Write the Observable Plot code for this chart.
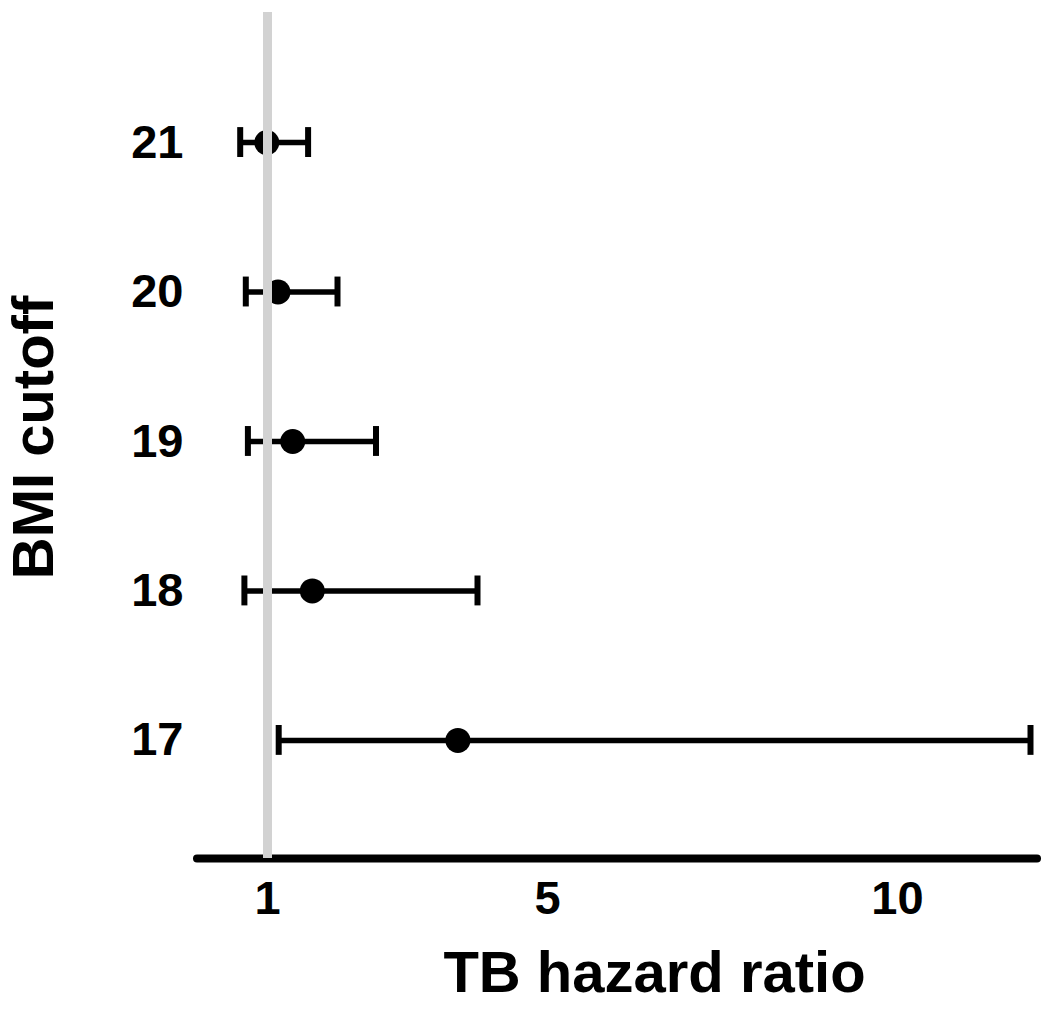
<!DOCTYPE html>
<html>
<head>
<meta charset="utf-8">
<script src="https://cdn.jsdelivr.net/npm/d3@7"></script>
<script src="https://cdn.jsdelivr.net/npm/@observablehq/plot@0.6"></script>
<style>
  html, body { margin: 0; padding: 0; background: #fff; }
  #chart svg { display: block; }
</style>
</head>
<body>
<div id="chart"></div>
<script>
// BMI cutoff rows
const bmi = [21, 20, 19, 18, 17];
// TB hazard ratio point estimates and 95% CI
const hr = [0.99, 1.15, 1.36, 1.64, 3.72];
const lower = [0.61, 0.69, 0.72, 0.67, 1.16];
const upper = [1.58, 2.0, 2.55, 4.0, 11.9];
const xTicks = [1, 5, 10];
const yTicks = [17, 18, 19, 20, 21];
const xTitle = "TB hazard ratio";
const yTitle = "BMI cutoff";

const rows = bmi.map((b, i) => ({bmi: b, hr: hr[i], lo: lower[i], hi: upper[i]}));
const capHalf = 0.1;
const yMin = 16.21, yMax = 21.87;
const font = "'Liberation Sans', Arial, Helvetica, sans-serif";

const chart = Plot.plot({
  width: 1050,
  height: 1013,
  marginLeft: 197,
  marginRight: 13,
  marginTop: 12,
  marginBottom: 155,
  style: {fontFamily: font, fontWeight: "bold", color: "black", background: "white"},
  x: {domain: [0, 12]},
  y: {domain: [yMin, yMax]},
  marks: [
    // x axis baseline
    Plot.ruleY([yMin], {x1: 0, x2: 12, stroke: "black", strokeWidth: 8, strokeLinecap: "round"}),
    // error bars
    Plot.ruleY(rows, {y: "bmi", x1: "lo", x2: "hi", stroke: "black", strokeWidth: 5.5}),
    Plot.ruleX(rows, {x: "lo", y1: d => d.bmi - capHalf, y2: d => d.bmi + capHalf, stroke: "black", strokeWidth: 6}),
    Plot.ruleX(rows, {x: "hi", y1: d => d.bmi - capHalf, y2: d => d.bmi + capHalf, stroke: "black", strokeWidth: 6}),
    Plot.dot(rows, {x: "hr", y: "bmi", r: 12.5, fill: "black", stroke: "none"}),
    // reference line at HR = 1
    Plot.ruleX([1], {y1: yMin, y2: yMax, stroke: "#d2d2d2", strokeWidth: 9}),
    Plot.axisX({ticks: xTicks, tickFormat: "d", tickSize: 0, tickPadding: 22, fontSize: 47, label: null}),
    Plot.axisY({ticks: yTicks, tickFormat: "d", tickSize: 0, tickPadding: 14, fontSize: 47, label: null}),
    Plot.text([xTitle], {frameAnchor: "bottom", lineAnchor: "middle", textAnchor: "middle", dy: 115, dx: 37, fontSize: 58, fontWeight: "bold", fill: "black"}),
    Plot.text([yTitle], {frameAnchor: "left", lineAnchor: "middle", textAnchor: "middle", rotate: -90, dx: -163, dy: 2, fontSize: 58, fontWeight: "bold", fill: "black"})
  ]
});
document.getElementById("chart").appendChild(chart);
</script>
</body>
</html>
